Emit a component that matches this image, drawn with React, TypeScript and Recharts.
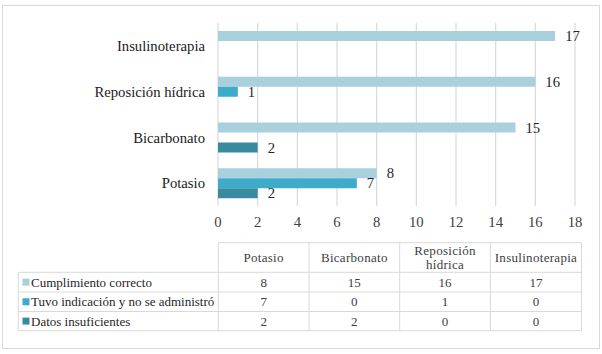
import React from 'react';
import { BarChart, Bar, XAxis, YAxis, CartesianGrid, LabelList } from 'recharts';

const categories = ['Potasio', 'Bicarbonato', 'Reposición hídrica', 'Insulinoterapia'];
const headerLines = [['Potasio'], ['Bicarbonato'], ['Reposición', 'hídrica'], ['Insulinoterapia']];
const seriesNames = ['Cumplimiento correcto', 'Tuvo indicación y no se administró', 'Datos insuficientes'];
const cumplimiento = [8, 15, 16, 17];
const tuvoIndicacion = [7, 0, 1, 0];
const datosInsuficientes = [2, 2, 0, 0];
const xTicks = [0, 2, 4, 6, 8, 10, 12, 14, 16, 18];

const colors = ['#a9d0dd', '#3eabc8', '#3a8a9f'];
const seriesKeys = ['a', 'b', 'c'];
const seriesValues = [cumplimiento, tuvoIndicacion, datosInsuficientes];

const data = categories
  .map((name, i) => ({ name, a: cumplimiento[i], b: tuvoIndicacion[i], c: datosInsuficientes[i] }))
  .reverse();

const FONT = "'Liberation Serif', 'Times New Roman', Times, serif";
const GRID = '#d9d9d9';

const fmt = (v: any) => (v === 0 ? '' : v);

function Table() {
  const colX = [218.3, 309, 399.7, 490.4, 581.5];
  const legendX = 18.3;
  const headTop = 242.7;
  const rowY = [272.3, 292, 311.5, 330.7];
  const ts = { fontFamily: FONT };
  return (
    <svg width={602} height={354} style={{ position: 'absolute', left: 0, top: 0, fontFamily: FONT }}>
      <rect x={2.5} y={5.5} width={597} height={343} fill="none" stroke={GRID} strokeWidth={1} />
      <line x1={colX[0]} x2={colX[4]} y1={headTop} y2={headTop} stroke={GRID} />
      {rowY.map((y, i) => (
        <line key={'h' + i} x1={legendX} x2={colX[4]} y1={y} y2={y} stroke={GRID} />
      ))}
      <line x1={legendX} x2={legendX} y1={rowY[0]} y2={rowY[3]} stroke={GRID} />
      {colX.map((x, i) => (
        <line key={'v' + i} x1={x} x2={x} y1={headTop} y2={rowY[3]} stroke={GRID} />
      ))}
      {headerLines.map((lines, i) => {
        const cx = (colX[i] + colX[i + 1]) / 2;
        const cy = (headTop + rowY[0]) / 2;
        return lines.map((t, j) => (
          <text
            key={'ht' + i + j}
            x={cx}
            y={cy + (j - (lines.length - 1) / 2) * 13.5}
            textAnchor="middle"
            dominantBaseline="central"
            style={{ ...ts, letterSpacing: 0.3 }}
            fontSize={13}
            fill="#404040"
          >
            {t}
          </text>
        ));
      })}
      {seriesNames.map((s, r) => {
        const cy = (rowY[r] + rowY[r + 1]) / 2;
        return (
          <g key={'r' + r}>
            <rect x={22.5} y={cy - 3.5} width={7} height={7} fill={colors[r]} />
            <text x={31} y={cy} dominantBaseline="central" style={ts} fontSize={13} fill="#262626">
              {s}
            </text>
            {seriesValues[r].map((v, c) => (
              <text
                key={'c' + c}
                x={(colX[c] + colX[c + 1]) / 2}
                y={cy}
                textAnchor="middle"
                dominantBaseline="central"
                style={ts}
                fontSize={13}
                fill="#404040"
              >
                {v}
              </text>
            ))}
          </g>
        );
      })}
    </svg>
  );
}

export default function App() {
  return (
    <div style={{ position: 'absolute', left: 0, top: 0, width: 602, height: 354, background: '#fff', fontFamily: FONT }}>
      <Table />
      <div style={{ position: 'absolute', left: 0, top: 0 }}>
        <BarChart
          width={602}
          height={240}
          data={data}
          layout="vertical"
          margin={{ top: 23, right: 27, left: 0, bottom: 0 }}
          barSize={10}
          barGap={0}
          style={{ fontFamily: FONT }}
        >
          <CartesianGrid horizontal={false} vertical stroke={GRID} strokeWidth={1.2} />
          <XAxis
            type="number"
            domain={[0, 18]}
            ticks={xTicks}
            interval={0}
            axisLine={false}
            tickLine={false}
            tickMargin={5}
            height={34}
            tick={{ fontSize: 14.7, fill: '#404040', style: { fontFamily: FONT } }}
          />
          <YAxis
            type="category"
            dataKey="name"
            width={218}
            axisLine={false}
            tickLine={false}
            tickMargin={7}
            tick={{ fontSize: 14.7, fill: '#1a1a1a', style: { fontFamily: FONT } }}
          />
          {seriesKeys.map((k, i) => (
            <Bar key={k} dataKey={k} name={seriesNames[i]} fill={colors[i]} isAnimationActive={false}>
              <LabelList
                dataKey={k}
                position="right"
                offset={10}
                formatter={fmt}
                style={{ fontFamily: FONT, fontSize: 14.7, fill: '#262626' }}
              />
            </Bar>
          ))}
        </BarChart>
      </div>
    </div>
  );
}
